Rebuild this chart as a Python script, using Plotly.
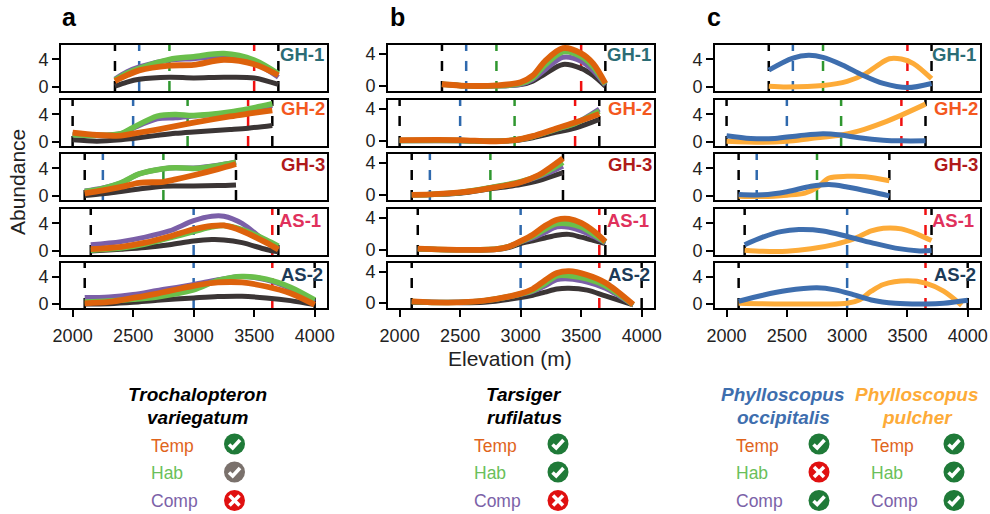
import plotly.graph_objects as go

# ---------- data ----------
SITES = ["GH-1", "GH-2", "GH-3", "AS-1", "AS-2"]
SITE_COLORS = ["#2b6c75", "#f4581e", "#b01a1a", "#e0315c", "#1c3a57"]
X_TICKS = [2000, 2500, 3000, 3500, 4000]
Y_TICKS = [0, 4]

RANGE_LOW = [2350, 2000, 2100, 2150, 2100]
RANGE_HIGH = [3700, 3650, 3350, 3700, 4000]
BLUE_ELEV = [2550, 2500, 2250, 3000, 3000]
GREEN_ELEV = [2800, 2950, 2750, None, None]
RED_ELEV = [3500, 3450, None, 3650, 3650]

# panel a
A_GH1_X = [2350, 2450, 2550, 2800, 3000, 3250, 3500, 3700]
A_GH1_DARK = [.1, .7, 1.1, 1.4, 1.3, 1.4, 1.3, .35]
A_GH1_PURPLE = [1.15, 2.2, 2.9, 3.9, 4.1, 4.4, 3.5, 1.4]
A_GH1_GREEN = [1.0, 2.0, 2.7, 4.0, 4.4, 4.85, 3.9, 1.9]
A_GH1_ORANGE = [.85, 1.7, 2.4, 3.1, 3.2, 3.95, 3.3, 1.7]
A_GH2_X = [2000, 2200, 2400, 2500, 2700, 2850, 3000, 3300, 3450, 3650]
A_GH2_DARK = [.3, .1, .3, .5, .95, 1.25, 1.45, 1.8, 2.0, 2.4]
A_GH2_PURPLE = [1.05, .95, 1.2, 2.0, 3.35, 3.5, 3.75, 4.25, 4.6, 5.3]
A_GH2_GREEN = [1.05, .95, 1.2, 2.1, 3.75, 4, 3.85, 4.35, 4.8, 5.55]
A_GH2_ORANGE = [1.35, 1, .9, 1.2, 1.8, 2.3, 2.8, 3.7, 4.1, 4.6]
A_GH3_X = [2100, 2250, 2400, 2550, 2750, 2850, 3000, 3200, 3350]
A_GH3_DARK = [.05, .3, .65, 1.0, 1.4, 1.45, 1.45, 1.5, 1.6]
A_GH3_PURPLE = [.7, 1.15, 1.9, 3.2, 3.95, 4.1, 4.05, 4.45, 4.95]
A_GH3_GREEN = [.65, 1.1, 1.9, 3.2, 3.95, 4.1, 4, 4.4, 4.9]
A_GH3_ORANGE = [.35, .8, 1.3, 1.9, 2.05, 2.4, 3, 3.9, 4.65]
A_AS1_X = [2150, 2400, 2600, 2800, 3000, 3150, 3250, 3400, 3600, 3700]
A_AS1_DARK = [0, .25, .5, .9, 1.45, 1.65, 1.6, 1.2, .2, -.15]
A_AS1_PURPLE = [.9, 1.35, 2, 2.9, 4.4, 5.05, 5.05, 4.0, 1.3, .3]
A_AS1_GREEN = [.1, .4, 1, 1.9, 2.8, 3.5, 3.7, 3.1, 1.6, .7]
A_AS1_ORANGE = [.25, .6, 1.2, 2.1, 3.15, 3.65, 3.7, 2.9, 1.2, .2]
A_AS2_X = [2100, 2300, 2500, 2700, 3000, 3200, 3400, 3600, 3800, 4000]
A_AS2_DARK = [0, .05, .25, .55, .9, 1.1, 1.15, .9, .5, -.1]
A_AS2_PURPLE = [.95, 1.05, 1.4, 2.0, 2.9, 3.6, 4.1, 3.6, 2.3, .3]
A_AS2_GREEN = [.3, .45, .7, 1.05, 2.1, 3.5, 4.1, 3.7, 2.5, .6]
A_AS2_ORANGE = [.1, .3, .9, 1.55, 2.7, 3.2, 3.2, 2.6, 1.6, -.1]

# panel b
B_GH1_X = [2350, 2550, 2800, 3000, 3100, 3200, 3350, 3500, 3600, 3700]
B_GH1_DARK = [.2, 0, 0, .15, .6, 1.5, 2.7, 2.2, 1.3, -.05]
B_GH1_PURPLE = [.2, 0, 0, .2, .8, 2.0, 3.6, 3.1, 1.9, .1]
B_GH1_GREEN = [.2, 0, 0, .3, 1, 2.6, 4.3, 3.7, 2.4, .2]
B_GH1_ORANGE = [.2, 0, .05, .45, 1.3, 3.1, 4.75, 4.1, 2.8, .3]
B_GH2_X = [2000, 2500, 2750, 2950, 3100, 3300, 3450, 3650]
B_GH2_DARK = [0, 0, -.05, .05, .4, 1.1, 1.6, 2.7]
B_GH2_PURPLE = [.05, .05, -.05, .1, .55, 1.5, 2.2, 4.0]
B_GH2_GREEN = [.05, .05, -.05, .1, .55, 1.5, 2.2, 3.75]
B_GH2_ORANGE = [.1, .1, -.05, .1, .6, 1.6, 2.3, 3.4]
B_GH3_X = [2100, 2250, 2500, 2750, 3000, 3150, 3250, 3350]
B_GH3_DARK = [0, .03, .2, .75, 1.3, 1.8, 2.3, 2.8]
B_GH3_PURPLE = [0, .05, .3, .9, 1.6, 2.3, 2.9, 3.6]
B_GH3_GREEN = [0, .05, .3, .9, 1.65, 2.4, 3.2, 4.1]
B_GH3_ORANGE = [0, .05, .3, .85, 1.6, 2.5, 3.5, 4.6]
B_AS1_X = [2150, 2500, 2800, 2900, 3000, 3100, 3200, 3300, 3400, 3500, 3600, 3700]
B_AS1_DARK = [.1, 0, .05, .3, .8, 1.15, 1.5, 1.85, 1.95, 1.6, 1.2, .8]
B_AS1_PURPLE = [.15, 0, .1, .4, 1, 1.5, 2.2, 2.9, 2.85, 2.4, 1.7, .9]
B_AS1_GREEN = [.15, 0, .1, .4, 1.05, 1.7, 2.6, 3.3, 3.3, 2.9, 2, .95]
B_AS1_ORANGE = [.15, 0, .1, .4, 1.1, 1.9, 3, 3.8, 3.9, 3.4, 2.4, 1.05]
B_AS2_X = [2100, 2400, 2700, 3000, 3100, 3200, 3300, 3400, 3550, 3700, 3930]
B_AS2_DARK = [.1, .05, .1, .7, 1, 1.4, 1.8, 1.9, 1.65, .9, -.25]
B_AS2_PURPLE = [.2, .1, .3, 1.1, 1.5, 2.2, 3, 3.1, 2.7, 1.9, -.25]
B_AS2_GREEN = [.2, .05, .3, 1.15, 1.6, 2.5, 3.5, 3.5, 3.1, 2.2, -.22]
B_AS2_ORANGE = [.2, .05, .3, 1.2, 1.8, 2.9, 3.85, 4.1, 3.6, 2.6, -.2]

# panel c
C_GH1_BLUE_X = [2350, 2550, 2680, 2800, 2960, 3130, 3300, 3500, 3700]
C_GH1_BLUE = [2.45, 4.2, 4.6, 4.3, 3.2, 1.7, .5, -.1, .5]
C_GH1_YELLOW_X = [2350, 2500, 2800, 3000, 3150, 3250, 3350, 3450, 3550, 3700]
C_GH1_YELLOW = [.1, 0, .2, .8, 1.9, 3.1, 4.1, 4.05, 3.4, 1.2]
C_GH2_BLUE_X = [2000, 2200, 2400, 2600, 2800, 2950, 3100, 3300, 3450, 3650]
C_GH2_BLUE = [.9, .5, .5, .9, 1.2, 1, .6, .25, .15, .15]
C_GH2_YELLOW_X = [2000, 2300, 2500, 2700, 2950, 3100, 3300, 3450, 3650]
C_GH2_YELLOW = [.1, -.05, .1, .5, 1, 1.6, 2.8, 3.9, 5.5]
C_GH3_BLUE_X = [2100, 2300, 2500, 2700, 2850, 3000, 3200, 3350]
C_GH3_BLUE = [.2, .15, .6, 1.4, 1.65, 1.3, .6, 0]
C_GH3_YELLOW_X = [2100, 2300, 2500, 2650, 2750, 2850, 3000, 3150, 3350]
C_GH3_YELLOW = [-.05, -.1, .1, .4, 1.2, 2.6, 2.85, 2.8, 2.2]
C_AS1_BLUE_X = [2150, 2300, 2450, 2600, 2800, 3000, 3200, 3400, 3600, 3700]
C_AS1_BLUE = [.9, 2, 2.8, 3.1, 2.9, 2.1, 1.2, .4, 0, .05]
C_AS1_YELLOW_X = [2150, 2300, 2500, 2700, 2900, 3050, 3200, 3300, 3450, 3600, 3700]
C_AS1_YELLOW = [.1, -.05, -.05, .3, .95, 1.7, 2.9, 3.3, 3.2, 2.3, 1.5]
C_AS2_BLUE_X = [2100, 2300, 2500, 2750, 2900, 3050, 3200, 3400, 3650, 3800, 4000]
C_AS2_BLUE = [.4, 1.3, 2, 2.4, 2.1, 1.4, .6, .1, 0, .1, .55]
C_AS2_YELLOW_X = [2100, 2400, 2800, 3000, 3100, 3200, 3300, 3500, 3650, 3800, 3950]
C_AS2_YELLOW = [.1, 0, 0, .1, .6, 1.9, 2.9, 3.45, 3.1, 1.9, -.2]

LEGEND_LABELS = ["Temp", "Hab", "Comp"]
STATUS_A = ["yes", "maybe", "no"]
STATUS_B = ["yes", "yes", "no"]
STATUS_C1 = ["yes", "no", "yes"]
STATUS_C2 = ["yes", "yes", "yes"]

# ---------- style ----------
W, H = 990, 514
FONT = "Liberation Sans, Arial, sans-serif"
DARK, PURPLE, GREEN, ORANGE = "#3b3535", "#7b5fa8", "#6abf4b", "#dd620c"
BLUE, YELLOW = "#3e6eae", "#fdab38"
COLS = [(61, 327), (388, 654), (715, 980)]
ROWS = [(45, 91), (100, 146), (154, 200), (209, 255), (263, 308)]
Y_RANGE_AC = [-0.6, 6.1]
Y_RANGE_B = [-0.65, 5.15]
X_RANGE = [1904, 4102]

A = globals()
fig = go.Figure()


def line(x, y, color, width, xa, ya):
    fig.add_trace(go.Scatter(x=x, y=y, mode="lines", xaxis=xa, yaxis=ya, showlegend=False,
                             hoverinfo="skip",
                             line=dict(color=color, width=width, shape="spline", smoothing=0.9)))


def vline(v, color, yr, xa, ya):
    if v is None:
        return
    fig.add_trace(go.Scatter(x=[v, v], y=yr, mode="lines", xaxis=xa, yaxis=ya, showlegend=False,
                             hoverinfo="skip",
                             line=dict(color=color, width=2.5, dash="10px,10px")))


layout = {}
n = 0
for c, (x0, x1) in enumerate(COLS):
    yr = Y_RANGE_B if c == 1 else Y_RANGE_AC
    for r, (y0, y1) in enumerate(ROWS):
        n += 1
        xa, ya = f"x{n}", f"y{n}"
        bottom = r == 4
        layout[f"xaxis{n}"] = dict(domain=[x0 / W, x1 / W], range=X_RANGE, anchor=ya,
                                   tickvals=X_TICKS if bottom else [], ticks="outside" if bottom else "",
                                   ticklen=7, tickwidth=1.6, tickcolor="black", showgrid=False,
                                   zeroline=False, showline=True, mirror=True, linecolor="black",
                                   linewidth=2, ticklabelstandoff=3,
                                   tickfont=dict(size=18, family=FONT, color="#222"))
        layout[f"yaxis{n}"] = dict(domain=[1 - y1 / H, 1 - y0 / H], range=yr, anchor=xa,
                                   tickvals=Y_TICKS, ticks="outside", ticklen=7, tickwidth=2,
                                   tickcolor="black", showgrid=False, zeroline=False, showline=True,
                                   mirror=True, linecolor="black", linewidth=2, ticklabelstandoff=0,
                                   tickfont=dict(size=18, family=FONT, color="#222"))
        vline(RANGE_LOW[r], "black", yr, xa, ya)
        vline(RANGE_HIGH[r], "black", yr, xa, ya)
        vline(BLUE_ELEV[r], "#2f69ad", yr, xa, ya)
        vline(GREEN_ELEV[r], "#2f972f", yr, xa, ya)
        vline(RED_ELEV[r], "#f01010", yr, xa, ya)
        key = SITES[r].replace("-", "")
        if c < 2:
            p = "AB"[c]
            xs = A[f"{p}_{key}_X"]
            line(xs, A[f"{p}_{key}_DARK"], DARK, 5, xa, ya)
            line(xs, A[f"{p}_{key}_PURPLE"], PURPLE, 5, xa, ya)
            line(xs, A[f"{p}_{key}_GREEN"], GREEN, 5.5, xa, ya)
            line(xs, A[f"{p}_{key}_ORANGE"], ORANGE, 5.8, xa, ya)
        else:
            line(A[f"C_{key}_YELLOW_X"], A[f"C_{key}_YELLOW"], YELLOW, 5, xa, ya)
            line(A[f"C_{key}_BLUE_X"], A[f"C_{key}_BLUE"], BLUE, 5, xa, ya)

ann = []
shapes = []


def text(x, y, s, size, color="black", anchor="center", angle=0):
    ann.append(dict(x=x / W, y=1 - y / H, xref="paper", yref="paper", text=s, showarrow=False,
                    xanchor=anchor, yanchor="middle", textangle=angle,
                    font=dict(size=size, color=color, family=FONT)))


# site labels
LABEL_Y = [55, 108, 164, 220, 274]
LABEL_RIGHT = [[326, 327, 327, 323, 325], [653, 654, 654, 651, 652], [978, 980, 980, 976, 978]]
for c in range(3):
    for r in range(5):
        text(LABEL_RIGHT[c][r], LABEL_Y[r], f"<b>{SITES[r]}</b>", 18.5, SITE_COLORS[r], "right")

text(69, 17, "<b>a</b>", 25)
text(397, 17, "<b>b</b>", 25)
text(714, 17, "<b>c</b>", 25)
text(17, 182, "Abundance", 21, "#222", angle=-90)
text(510, 358, "Elevation (m)", 21, "#222")


def species(cx, l1, l2, color):
    text(cx, 394, f"<b><i>{l1}</i></b>", 19, color)
    text(cx, 417, f"<b><i>{l2}</i></b>", 19, color)


def icon(cx, cy, status):
    fill = {"yes": "#1f7a38", "maybe": "#7a716c", "no": "#e01010"}[status]
    px = lambda a, b: f"{(cx + a) / W} {1 - (cy + b) / H}"
    shapes.append(dict(type="circle", xref="paper", yref="paper", x0=(cx - 10.5) / W, x1=(cx + 10.5) / W,
                       y0=1 - (cy + 10.5) / H, y1=1 - (cy - 10.5) / H, fillcolor=fill, line_width=0))
    if status == "no":
        paths = [f"M {px(-5, -5)} L {px(5, 5)}", f"M {px(-5, 5)} L {px(5, -5)}"]
    else:
        paths = [f"M {px(-5.5, 0.5)} L {px(-1.8, 4)} L {px(5.5, -4)}"]
    for d in paths:
        shapes.append(dict(type="path", xref="paper", yref="paper", path=d,
                           line=dict(color="white", width=3.6)))


def table(tx, ix, status):
    for lab, col, st, ty, iy in zip(LEGEND_LABELS, ["#e0641c", "#6abf5a", "#7b62a8"], status,
                                    [446, 473, 501], [444, 472, 500.5]):
        text(tx - 2, ty, lab, 17.5, col, "left")
        icon(ix, iy, st)


species(197, "Trochalopteron", "variegatum", "black")
species(524, "Tarsiger", "rufilatus", "black")
species(783, "Phylloscopus", "occipitalis", BLUE)
species(917, "Phylloscopus", "pulcher", YELLOW)
table(151, 234.5, STATUS_A)
table(474, 558, STATUS_B)
table(736, 819, STATUS_C1)
table(871, 954, STATUS_C2)

fig.update_layout(width=W, height=H, margin=dict(l=0, r=0, t=0, b=0, autoexpand=False), autosize=False,
                  plot_bgcolor="white", paper_bgcolor="white", showlegend=False,
                  annotations=ann, shapes=shapes, **layout)
fig.write_html("out.html", config={"displayModeBar": False},
               post_script="document.body.style.margin='0';document.documentElement.style.overflow='hidden';")
